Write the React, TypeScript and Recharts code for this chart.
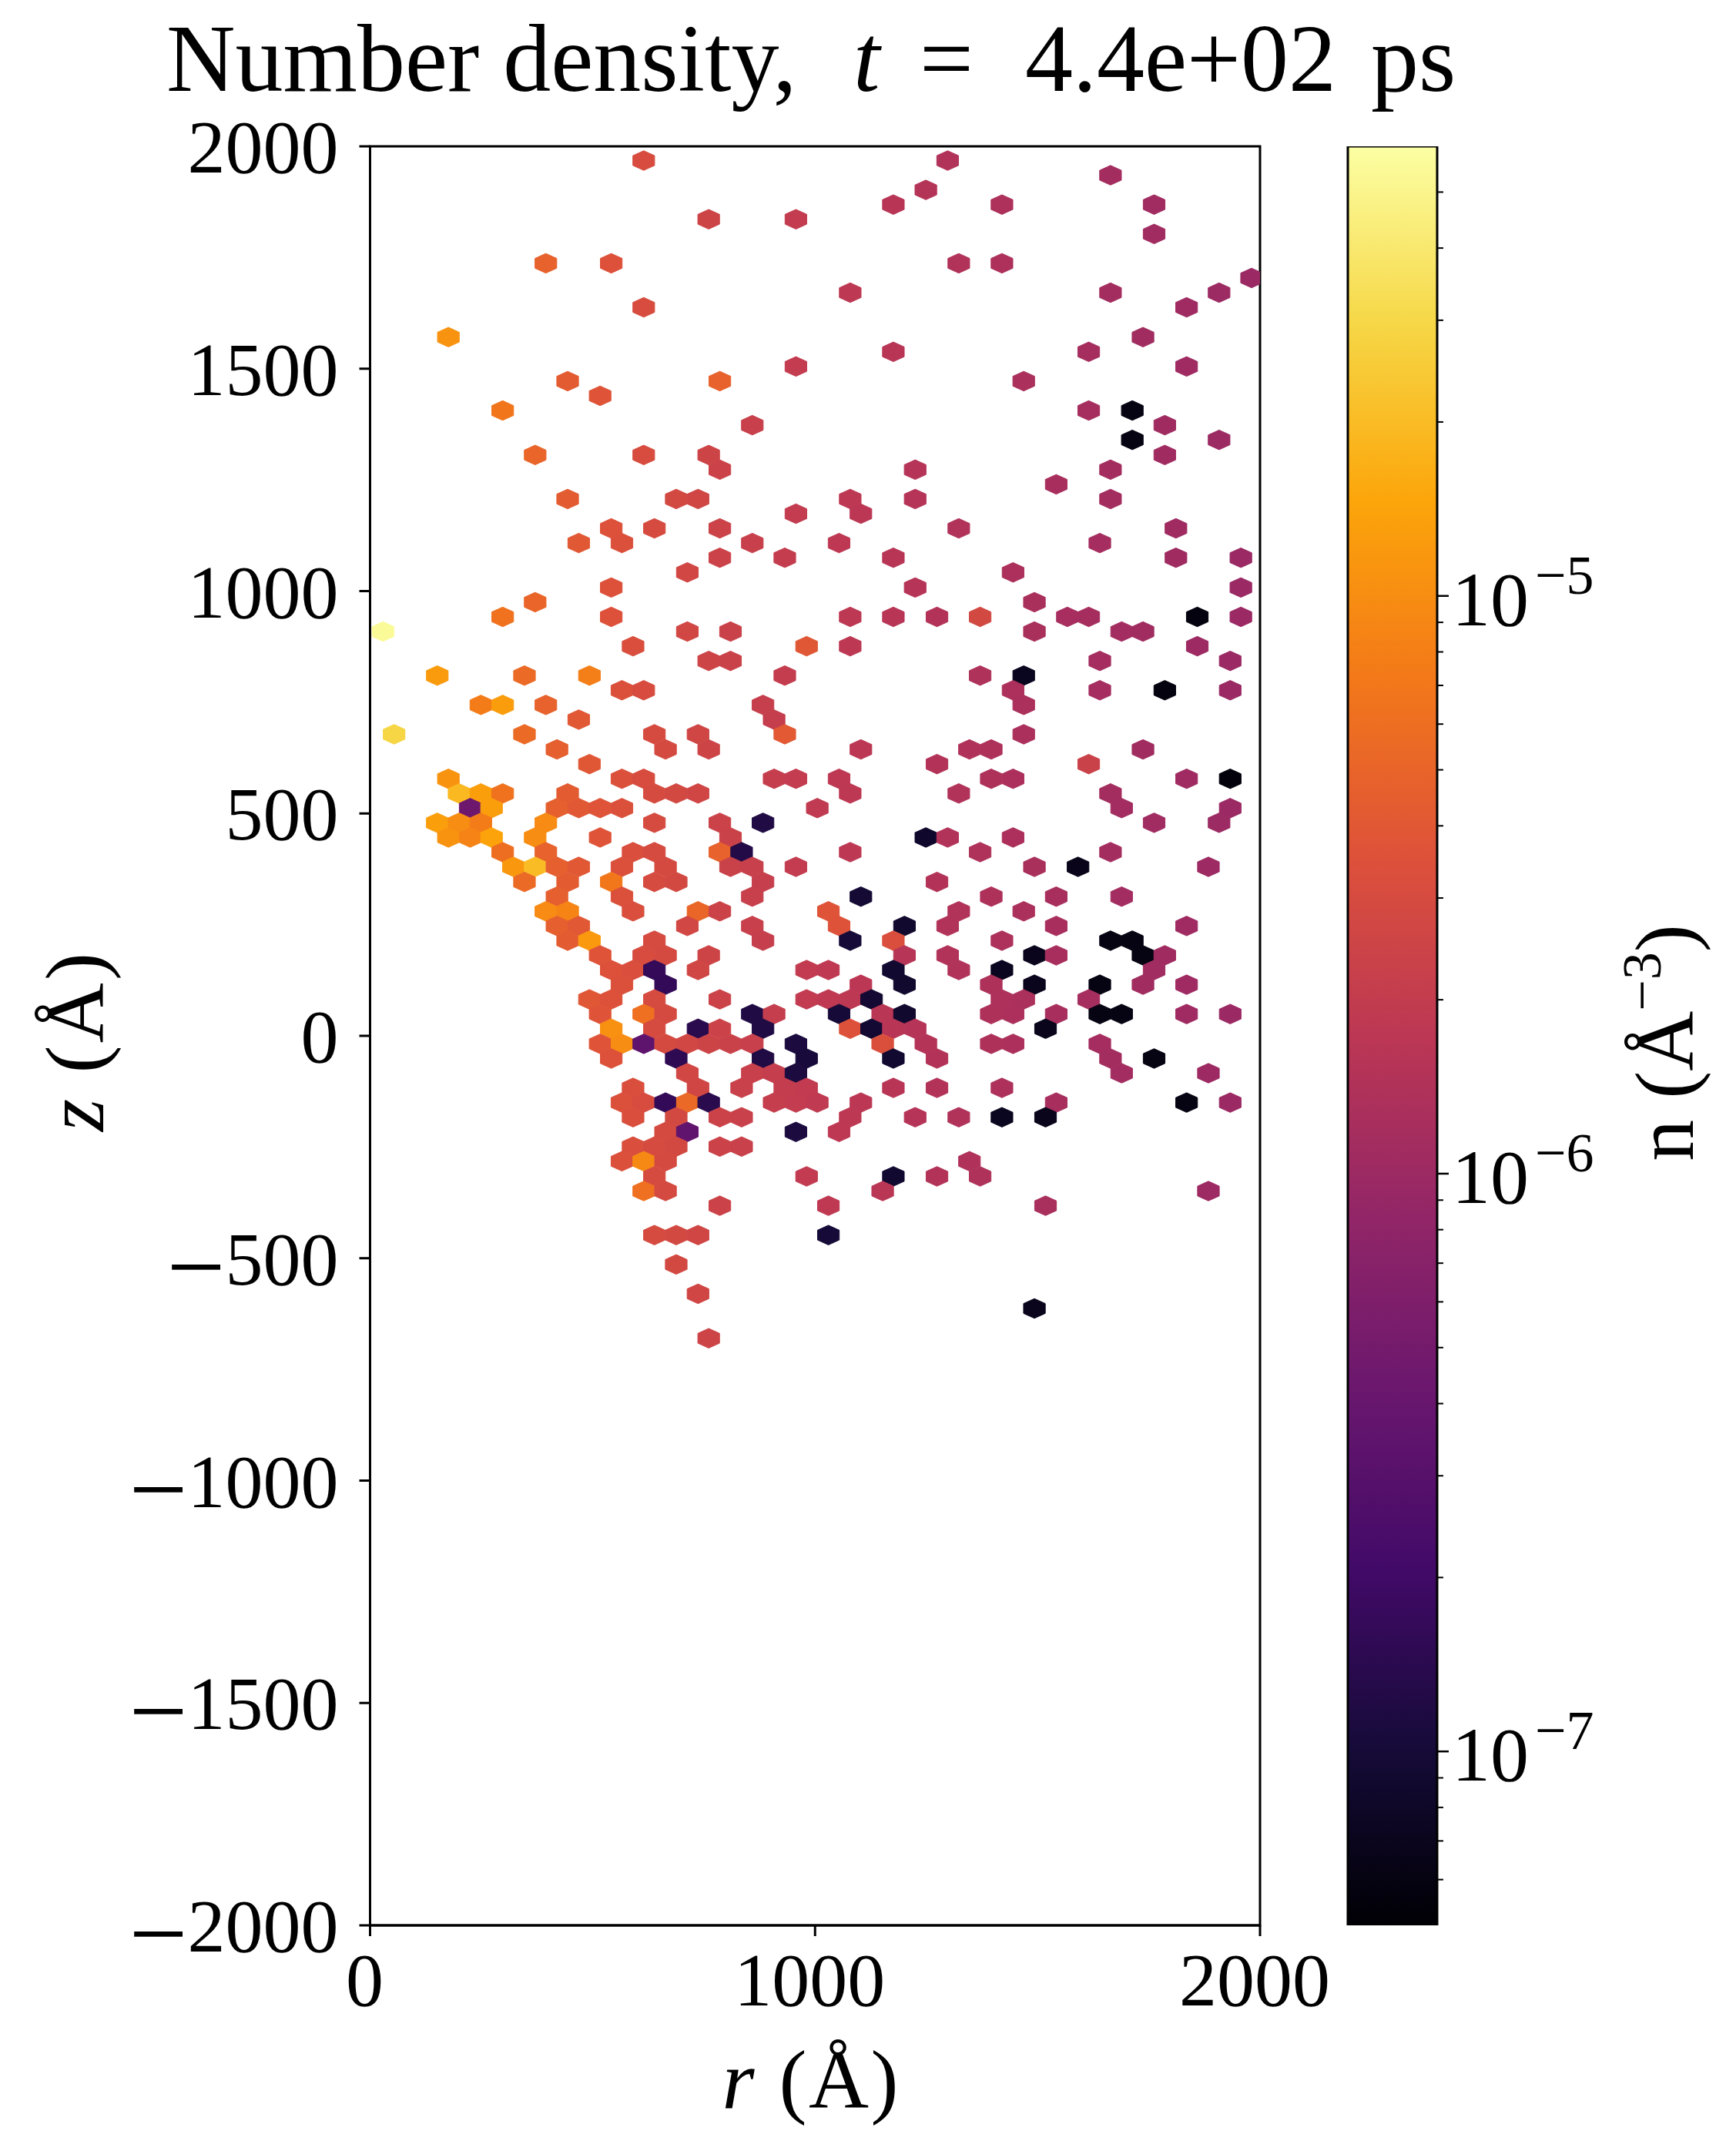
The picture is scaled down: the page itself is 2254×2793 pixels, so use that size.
import React from 'react';
import { ScatterChart, Scatter, BarChart, Bar, XAxis, YAxis, ReferenceArea } from 'recharts';

// each row: z, then [r, n] per hexagon, n in units of 1e-6 per cubic angstrom
const upperBins: any[] = [
  [1968, [615, 3.1], [1298, 1.46]],
  [1935, [1664, 1.14]],
  [1902, [1249, 1.52]],
  [1869, [1176, 1.62], [1420, 1.34], [1762, 1.08]],
  [1836, [761, 2.5], [957, 2]],
  [1803, [1762, 1.08]],
  [1737, [395, 4.8], [542, 3.5], [1323, 1.44], [1420, 1.34]],
  [1704, [1981, 0.96]],
  [1671, [1079, 1.76], [1664, 1.14], [1908, 1]],
  [1638, [615, 3.1], [1835, 1.04]],
  [1571, [176, 11], [1737, 1.09]],
  [1538, [1176, 1.62], [1615, 1.18]],
  [1505, [957, 2], [1835, 1.04]],
  [1472, [444, 4.3], [786, 4.8], [1469, 1.29]],
  [1439, [517, 3.7]],
  [1406, [298, 6.8], [1615, 1.18], [1713, 0.06]],
  [1373, [859, 2.2], [1786, 1.06]],
  [1340, [1713, 0.06], [1908, 1]],
  [1306, [371, 5.1], [615, 3.1], [761, 2.5], [1786, 1.06]],
  [1273, [786, 2.4], [1225, 1.55], [1664, 1.14]],
  [1240, [1542, 1.23]],
  [1207, [444, 4.3], [688, 2.8], [737, 2.6], [1079, 1.76], [1225, 1.55], [1664, 1.14]],
  [1174, [957, 2], [1103, 1.72]],
  [1141, [542, 3.5], [639, 3], [786, 2.4], [1323, 1.44], [1811, 1.05]],
  [1108, [469, 4], [566, 3.4], [859, 2.2], [1054, 1.8], [1640, 1.16]],
  [1075, [786, 2.4], [932, 2.05], [1176, 1.62], [1811, 1.05], [1957, 0.97]],
];

const middleBins: any[] = [
  [1042, [713, 2.7], [1445, 1.31]],
  [1008, [542, 3.5], [1225, 1.55], [1957, 0.97]],
  [975, [371, 5.1], [1493, 1.27]],
  [942, [298, 6.4], [542, 3.5], [1079, 1.76], [1176, 1.62], [1274, 1.49], [1371, 2.8], [1567, 1.21], [1615, 1.18], [1859, 0.058], [1957, 0.97]],
  [909, [29, 55], [713, 2.7], [810, 2.35], [1493, 1.27], [1689, 1.12], [1737, 1.09]],
  [876, [591, 3.2], [981, 3.9], [1079, 1.76], [1859, 1.02]],
  [843, [761, 2.5], [810, 2.35], [1640, 1.16], [1933, 0.98]],
  [810, [151, 12.5], [347, 5.5], [493, 7.8], [932, 2.05], [1371, 1.39], [1469, 0.072]],
  [777, [566, 3.4], [615, 3.1], [1445, 1.31], [1640, 1.16], [1786, 0.058], [1933, 0.98]],
  [744, [249, 7.6], [298, 12.8], [395, 4.8], [883, 2.15], [1469, 1.29]],
  [711, [469, 4], [908, 2.1]],
  [678, [54, 29], [347, 5.5], [639, 3], [737, 2.6], [932, 4.1], [1469, 1.29]],
  [644, [420, 4.5], [664, 2.9], [761, 2.5], [1103, 1.72], [1347, 1.41], [1396, 1.36], [1737, 1.09]],
  [611, [493, 3.9], [1274, 1.49], [1615, 2.36]],
  [578, [176, 11], [566, 3.4], [615, 3.1], [908, 2.1], [957, 2], [1054, 1.8], [1396, 1.36], [1445, 1.31], [1835, 1.04], [1933, 0.055]],
  [545, [200, 19], [249, 13], [298, 6.4], [444, 4.3], [639, 3], [688, 2.8], [737, 2.6], [1079, 1.76], [1323, 1.44], [1664, 1.14]],
  [512, [225, 0.45], [273, 13], [420, 4.5], [469, 4], [517, 3.7], [566, 3.4], [1005, 1.9], [1689, 1.12], [1933, 0.98]],
  [479, [151, 13], [200, 10], [249, 7.6], [395, 9.6], [639, 3], [786, 2.4], [883, 0.12], [1762, 1.08], [1908, 1]],
  [446, [176, 11], [225, 8.5], [273, 14], [371, 10], [517, 3.7], [810, 2.35], [1249, 0.085], [1298, 1.46], [1445, 1.31]],
  [413, [298, 6], [395, 4.8], [591, 3.2], [639, 3], [786, 4.8], [835, 0.125], [1079, 1.76], [1371, 1.39], [1664, 1.14]],
  [380, [322, 11.8], [371, 20], [420, 4.5], [469, 4], [566, 3.4], [664, 2.9], [810, 2.35], [859, 2.2], [957, 2], [1493, 1.27], [1591, 0.066], [1884, 1.01]],
  [346, [347, 5.5], [444, 4.3], [542, 7], [639, 3], [688, 2.8], [883, 2.15], [1274, 1.49]],
  [313, [420, 4.5], [566, 3.4], [859, 2.2], [1103, 0.095], [1396, 1.36], [1542, 1.23], [1689, 1.12]],
  [280, [395, 9.6], [444, 8.6], [591, 3.2], [737, 5.2], [786, 2.4], [1030, 3.7], [1323, 1.44], [1469, 1.29]],
  [247, [420, 4.5], [469, 4], [713, 2.7], [859, 2.2], [1054, 3.6], [1201, 0.088], [1298, 1.46], [1542, 1.23], [1835, 1.04]],
  [214, [444, 4.3], [493, 12], [639, 3], [883, 2.15], [1079, 0.1], [1176, 3.2], [1420, 1.34], [1664, 0.06], [1713, 0.06]],
  [181, [517, 3.7], [615, 3.1], [664, 2.9], [761, 2.5], [1201, 1.58], [1298, 1.46], [1493, 0.07], [1542, 1.23], [1737, 0.06], [1786, 1.06]],
];

const lowerBins: any[] = [
  [148, [542, 3.5], [591, 3.2], [639, 0.165], [737, 2.6], [981, 1.95], [1030, 1.85], [1176, 0.09], [1323, 1.44], [1420, 0.072], [1762, 1.08]],
  [115, [566, 3.4], [664, 0.16], [1103, 1.72], [1201, 0.088], [1396, 1.36], [1493, 0.07], [1640, 0.06], [1737, 1.09], [1835, 1.04]],
  [82, [493, 3.9], [542, 3.5], [639, 3], [786, 2.4], [981, 1.95], [1030, 1.85], [1079, 1.76], [1127, 0.092], [1420, 1.34], [1469, 1.29], [1615, 1.18]],
  [49, [517, 3.7], [615, 6.2], [664, 2.9], [859, 0.12], [908, 2.1], [1054, 0.1], [1152, 1.65], [1201, 0.088], [1396, 1.36], [1445, 1.31], [1542, 1.23], [1640, 0.06], [1689, 0.06], [1835, 1.04], [1933, 0.98]],
  [16, [542, 10.5], [639, 3], [737, 0.14], [786, 2.4], [883, 0.12], [1079, 3.5], [1127, 0.092], [1176, 1.62], [1225, 1.55], [1518, 0.068]],
  [-18, [517, 3.7], [566, 10], [615, 0.34], [664, 2.9], [713, 2.7], [761, 2.5], [810, 2.35], [859, 2.2], [957, 0.11], [1152, 3.3], [1249, 1.52], [1396, 1.36], [1445, 1.31], [1640, 1.16]],
  [-51, [542, 3.5], [688, 0.15], [883, 0.12], [981, 0.105], [1176, 0.09], [1274, 1.49], [1664, 1.14], [1762, 0.06]],
  [-84, [713, 2.7], [859, 2.2], [908, 2.1], [957, 0.11], [1689, 1.12], [1884, 1.01]],
  [-117, [591, 3.2], [737, 2.6], [835, 2.3], [932, 2.05], [981, 1.95], [1176, 1.62], [1274, 1.49], [1420, 1.34]],
  [-150, [566, 3.4], [615, 3.1], [664, 0.16], [713, 5.4], [761, 0.14], [908, 2.1], [957, 2], [1005, 1.9], [1103, 1.72], [1542, 1.23], [1835, 0.06], [1933, 0.98]],
  [-183, [591, 3.2], [688, 2.8], [786, 2.4], [835, 2.3], [1079, 1.76], [1225, 1.55], [1323, 1.44], [1420, 0.072], [1518, 0.068]],
  [-216, [664, 2.9], [713, 0.36], [957, 0.11], [1054, 1.8]],
  [-249, [591, 3.2], [639, 3], [688, 2.8], [786, 2.4], [835, 2.3]],
  [-282, [566, 3.4], [615, 9.3], [664, 2.9], [1347, 1.41]],
  [-316, [639, 3], [981, 1.95], [1176, 0.09], [1274, 1.49], [1371, 1.39]],
  [-349, [615, 6.2], [664, 2.9], [1152, 1.65], [1884, 1.01]],
  [-382, [786, 2.4], [1030, 1.85], [1518, 1.25]],
  [-448, [639, 3], [688, 2.8], [737, 2.6], [1030, 0.1]],
  [-514, [688, 2.8]],
  [-580, [737, 2.6]],
  [-613, [1493, 0.07]],
  [-680, [761, 2.5]],
];

const rTicks = [0, 1000, 2000];
const zTicks = [-2000, -1500, -1000, -500, 0, 500, 1000, 1500, 2000];
const barTicks = [
  6e-8, 7e-8, 8e-8, 9e-8, 1e-7, 2e-7, 3e-7, 4e-7, 5e-7, 6e-7, 7e-7, 8e-7, 9e-7,
  1e-6, 2e-6, 3e-6, 4e-6, 5e-6, 6e-6, 7e-6, 8e-6, 9e-6, 1e-5, 2e-5, 3e-5, 4e-5, 5e-5,
];
const majorLabels: Record<string, string> = { '1e-7': '7', '1e-6': '6', '1e-5': '5' };
const infernoStops = ['#000004', '#160b39', '#420a68', '#6a176e', '#932667', '#bc3754', '#dd513a', '#f37819', '#fca50a', '#f6d746', '#fcffa4'];

const N_MIN = 5e-8;
const N_MAX = 6e-5;
const HEX_R = 48.8; // bin width in r
const HEX_Z = 66.2; // bin height step in z

const FONT = '"Liberation Serif", serif';
const PLOT = { left: 480.5, right: 1636, top: 190, bottom: 2500 };

const bins = [...upperBins, ...middleBins, ...lowerBins].flatMap(([z, ...cells]) =>
  cells.map(([r, n]: number[]) => ({ r, z, n: n * 1e-6 }))
);
const barData = [{ name: 'n', range: [N_MIN, N_MAX] }];

const hexToRgb = (h: string) => [1, 3, 5].map((i) => parseInt(h.slice(i, i + 2), 16));

const infernoColor = (n: number) => {
  const f = (Math.log10(n) - Math.log10(N_MIN)) / (Math.log10(N_MAX) - Math.log10(N_MIN));
  const pos = Math.min(Math.max(f, 0), 0.9999) * (infernoStops.length - 1);
  const i = Math.floor(pos);
  const a = hexToRgb(infernoStops[i]);
  const b = hexToRgb(infernoStops[i + 1]);
  const c = a.map((v, k) => Math.round(v + (b[k] - v) * (pos - i)));
  return `rgb(${c[0]},${c[1]},${c[2]})`;
};

const HexShape = (props: any) => {
  const { cx, cy, payload } = props;
  const sx = (PLOT.right - PLOT.left) / 2000;
  const sy = (PLOT.bottom - PLOT.top) / 4000;
  const w = (HEX_R / 2) * sx;
  const h = (HEX_Z / 3) * sy;
  const pts = [
    [0, -h], [w, -h / 2], [w, h / 2], [0, h], [-w, h / 2], [-w, -h / 2],
  ].map(([a, b]) => `${cx + a},${cy + b}`).join(' ');
  const color = infernoColor(payload.n);
  return <polygon points={pts} fill={color} stroke={color} strokeWidth={1} clipPath="url(#plotClip)" />;
};

const ZTick = ({ x, y, payload }: any) => (
  <text x={x} y={y + 34} textAnchor="end" fontFamily={FONT} fontSize={98} fill="#000">
    {payload.value < 0 && <tspan fontSize={135} dy={22}>−</tspan>}
    {payload.value < 0 ? <tspan dy={-22}>{Math.abs(payload.value)}</tspan> : payload.value}
  </text>
);

const RTick = ({ x, y, payload }: any) => (
  <text x={x - 7} y={y + 80} textAnchor="middle" fontFamily={FONT} fontSize={98} fill="#000">
    {payload.value}
  </text>
);

const BarTick = ({ x, y, payload }: any) => {
  const exp = majorLabels[payload.value.toExponential(0)];
  return (
    <g>
      <line x1={x - 16} x2={x - 16 + (exp ? 15 : 8)} y1={y} y2={y} stroke="#000" strokeWidth={exp ? 2.5 : 2} />
      {exp && (
        <text x={x + 3} y={y + 38} fontFamily={FONT} fontSize={100} fill="#000">
          10
          <tspan dx={8} dy={-41} fontSize={72}>−{exp}</tspan>
        </text>
      )}
    </g>
  );
};

const App = () => {
  return (
    <div style={{ position: 'absolute', left: 0, top: 0, width: 2254, height: 2793, background: '#fff', overflow: 'hidden' }}>
      <div style={{ position: 'absolute', left: 0, top: 0 }}>
        <ScatterChart
          width={2254}
          height={2793}
          margin={{ top: PLOT.top, left: PLOT.left - 300, right: 2254 - PLOT.right, bottom: 2793 - PLOT.bottom - 200 }}
        >
          <defs>
            <clipPath id="plotClip">
              <rect x={PLOT.left} y={PLOT.top} width={PLOT.right - PLOT.left} height={PLOT.bottom - PLOT.top} />
            </clipPath>
          </defs>
          <XAxis
            type="number"
            dataKey="r"
            domain={[0, 2000]}
            ticks={rTicks}
            height={200}
            tick={RTick}
            tickSize={14}
            tickMargin={10}
            tickLine={{ stroke: '#000', strokeWidth: 3 }}
            axisLine={{ stroke: '#000', strokeWidth: 3 }}
          />
          <YAxis
            type="number"
            dataKey="z"
            domain={[-2000, 2000]}
            ticks={zTicks}
            width={300}
            interval={0}
            tick={ZTick}
            tickSize={14}
            tickMargin={27}
            tickLine={{ stroke: '#000', strokeWidth: 3 }}
            axisLine={{ stroke: '#000', strokeWidth: 3 }}
          />
          <Scatter data={bins} shape={HexShape} isAnimationActive={false} />
          <ReferenceArea x1={0} x2={2000} y1={-2000} y2={2000} fill="none" fillOpacity={0} stroke="#000" strokeWidth={3} />
          <text y={118} fontFamily={FONT} fontSize={124} fill="#000">
            <tspan x={216}>Number density,</tspan>
            <tspan x={1108} fontStyle="italic">t</tspan>
            <tspan x={1194}>=</tspan>
            <tspan x={1331}>4.4e+02</tspan>
            <tspan x={1780}>ps</tspan>
          </text>
          <text x={1052} y={2737} textAnchor="middle" fontFamily={FONT} fontSize={108} fill="#000" textLength={229}>
            <tspan fontStyle="italic">r</tspan> (Å)
          </text>
          <text x={134} y={1353} textAnchor="middle" fontFamily={FONT} fontSize={108} fill="#000" textLength={232} transform="rotate(-90 134 1353)">
            <tspan fontStyle="italic">z</tspan> (Å)
          </text>
        </ScatterChart>
      </div>
      <div style={{ position: 'absolute', left: 1700, top: 0 }}>
        <BarChart
          width={554}
          height={2793}
          data={barData}
          barCategoryGap={0}
          margin={{ top: PLOT.top, left: 50, right: 88, bottom: 2793 - PLOT.bottom }}
        >
          <defs>
            <linearGradient id="infernoBar" x1="0" y1="1" x2="0" y2="0">
              {infernoStops.map((c, i) => (
                <stop key={c} offset={i / (infernoStops.length - 1)} stopColor={c} />
              ))}
            </linearGradient>
          </defs>
          <XAxis dataKey="name" hide />
          <YAxis
            orientation="right"
            scale="log"
            type="number"
            domain={[N_MIN, N_MAX]}
            allowDataOverflow
            ticks={barTicks}
            interval={0}
            width={300}
            tick={BarTick}
            tickLine={false}
            axisLine={false}
            tickSize={16}
            tickMargin={0}
          />
          <Bar dataKey="range" fill="url(#infernoBar)" stroke="#000" strokeWidth={3} isAnimationActive={false} />
          <text x={498} y={1354} textAnchor="middle" fontFamily={FONT} fontSize={108} fill="#000" transform="rotate(-90 498 1354)">
            n (Å<tspan dy={-42} fontSize={72}>−3</tspan><tspan dy={42}>)</tspan>
          </text>
        </BarChart>
      </div>
    </div>
  );
};

export default App;
